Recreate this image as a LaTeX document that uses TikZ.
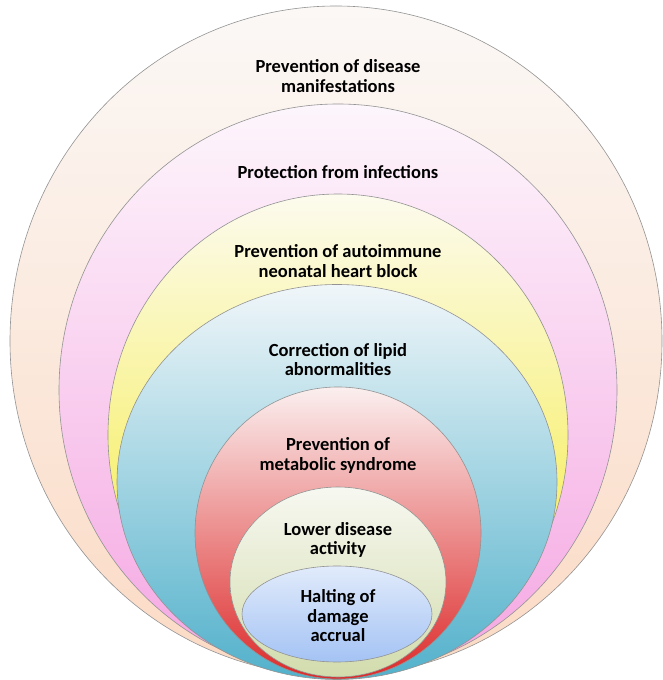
\documentclass[tikz,border=0pt]{standalone}
\usepackage{fontspec}
\setmainfont{Carlito}
\usepackage{tikz}
\definecolor{peachT}{HTML}{FBF8F6}
\definecolor{peachB}{HTML}{FBDAC4}
\definecolor{pinkT}{HTML}{FDF6FC}
\definecolor{pinkB}{HTML}{F5A6E2}
\definecolor{yellowT}{HTML}{FCFBEE}
\definecolor{yellowB}{HTML}{F5EA2C}
\definecolor{blueT}{HTML}{F0F6F9}
\definecolor{blueB}{HTML}{52B1CB}
\definecolor{redT}{HTML}{FBEFEF}
\definecolor{redB}{HTML}{DD2A2A}
\definecolor{greenT}{HTML}{F7F8F1}
\definecolor{greenB}{HTML}{D2DCAC}
\definecolor{haltT}{HTML}{E1EBFB}
\definecolor{haltB}{HTML}{A4C3F4}
\tikzstyle{ring}=[
    draw=gray!85,
    line width=0.6pt
    ]
\tikzstyle{lbl}=[
    align=center,
    font=\fontsize{18.5}{19.5}\selectfont\bfseries,
    text=black
    ]

\begin{document}
\begin{tikzpicture}[
x=1pt,y=1pt
]
\useasboundingbox (0,0) rectangle (662,680);
%rings, outer to inner
\path[ring,top color=peachT,bottom color=peachB] (336,339) ellipse (326 and 335);
\path[ring,top color=pinkT,bottom color=pinkB] (338,290) ellipse (279 and 286);
\path[ring,top color=yellowT,bottom color=yellowB] (338,245) ellipse (230 and 241);
\path[ring,top color=blueT,bottom color=blueB] (337,198) ellipse (220 and 197.5);
\path[ring,top color=redT,bottom color=redB] (338,147) ellipse (143 and 146);
\path[ring,top color=greenT,bottom color=greenB] (338,98) ellipse (108 and 95);
\path[ring,top color=haltT,bottom color=haltB] (337,66) ellipse (95 and 48);
%labels
\node[lbl] (manif) at (338,604) {Prevention of disease\\manifestations};
\node[lbl] (infect) at (338,508) {Protection from infections};
\node[lbl] (heart) at (338,419) {Prevention of autoimmune\\neonatal heart block};
\node[lbl] (lipid) at (338,320.5) {Correction of lipid\\abnormalities};
\node[lbl] (metab) at (338,224.5) {Prevention of\\metabolic syndrome};
\node[lbl] (activ) at (338,140) {Lower disease\\activity};
\node[lbl] (damage) at (338,64) {Halting of\\damage\\accrual};
\end{tikzpicture}
\end{document}
